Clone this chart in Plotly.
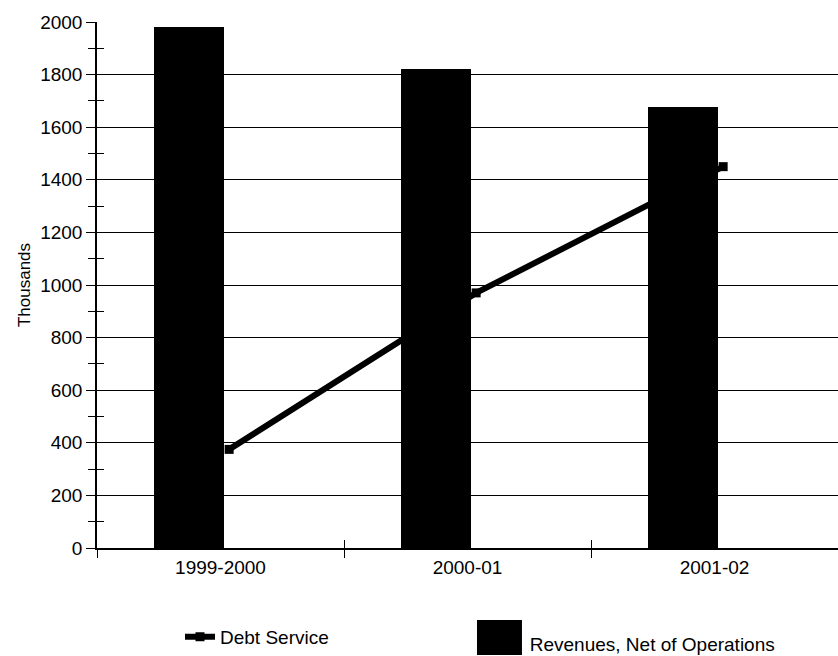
import plotly.graph_objects as go

categories = ["1999-2000", "2000-01", "2001-02"]
revenues_net = [1980, 1820, 1675]
debt_service = [375, 970, 1450]
y_ticks = [0, 200, 400, 600, 800, 1000, 1200, 1400, 1600, 1800, 2000]

FONT = "Liberation Sans, Arial, sans-serif"
idx = list(range(len(categories)))
bounds = [i - 0.5 for i in range(len(categories) + 1)]

fig = go.Figure()
fig.add_trace(go.Bar(
    x=idx, y=revenues_net, name="Revenues, Net of Operations",
    width=0.283, offset=-0.2675,
    marker=dict(color="black", line=dict(width=0)),
    legend="legend2",
))
fig.add_trace(go.Scatter(
    x=[i + 0.035 for i in idx], y=debt_service, name="Debt Service",
    mode="lines+markers",
    line=dict(color="black", width=6),
    marker=dict(symbol="square", size=9, color="black"),
    legend="legend",
))
# helper traces so the overlay axes (crossing ticks, category labels) get drawn
fig.add_trace(go.Scatter(x=[], y=[], xaxis="x2", yaxis="y2", showlegend=False, hoverinfo="skip"))
fig.add_trace(go.Scatter(x=[], y=[], xaxis="x3", yaxis="y", showlegend=False, hoverinfo="skip"))

fig.update_layout(
    width=838, height=656,
    margin=dict(l=97, r=0, t=22, b=108, autoexpand=False),
    paper_bgcolor="white", plot_bgcolor="white",
    font=dict(family=FONT, size=19, color="black"),
    bargap=0,
    xaxis=dict(
        range=[-0.5, 2.5], tickmode="array", tickvals=bounds,
        ticktext=["" for _ in bounds], ticks="outside", ticklen=8,
        tickwidth=1.2, tickcolor="black", automargin=False,
        showline=True, linecolor="black", linewidth=1.5,
        showgrid=False, zeroline=False,
    ),
    xaxis2=dict(
        overlaying="x", anchor="y2", side="bottom", automargin=False,
        range=[-0.5, 2.5], tickmode="array", tickvals=bounds,
        showticklabels=False, ticks="inside", ticklen=8,
        tickwidth=1.2, tickcolor="black",
        showline=False, showgrid=False, zeroline=False,
    ),
    xaxis3=dict(
        overlaying="x", anchor="y", side="bottom", automargin=False,
        range=[-0.5, 2.5], tickmode="array", tickvals=idx,
        ticktext=categories, ticks="", ticklabelstandoff=6,
        tickfont=dict(size=19, family=FONT, color="black"),
        showline=False, showgrid=False, zeroline=False,
    ),
    yaxis=dict(
        range=[0, 2000], tickmode="array", tickvals=y_ticks, automargin=False,
        ticks="outside", ticklen=9, tickwidth=1.2, tickcolor="black",
        showgrid=True, gridcolor="black", gridwidth=1.2,
        showline=True, linecolor="black", linewidth=1.5, zeroline=False,
        minor=dict(dtick=100, tick0=0, ticks="outside", ticklen=7,
                   tickwidth=1.2, tickcolor="black", showgrid=False),
        tickfont=dict(size=19, family=FONT, color="black"),
        title=dict(text="Thousands", font=dict(size=17, family=FONT, color="black"), standoff=5),
    ),
    yaxis2=dict(
        overlaying="y", anchor="x2", side="left", automargin=False,
        range=[0, 2000], tickmode="array", tickvals=y_ticks,
        ticks="inside", ticklen=7, tickwidth=1.2, tickcolor="black",
        showticklabels=False, showgrid=False, showline=False, zeroline=False,
        minor=dict(dtick=100, tick0=0, ticks="inside", ticklen=7,
                   tickwidth=1.2, tickcolor="black", showgrid=False),
    ),
    legend=dict(x=0.112, y=-0.169, xanchor="left", yanchor="middle",
                font=dict(size=19, family=FONT, color="black"),
                bgcolor="rgba(0,0,0,0)"),
    legend2=dict(x=0.530, y=-0.182, xanchor="left", yanchor="middle",
                 font=dict(size=19, family=FONT, color="black"),
                 bgcolor="rgba(0,0,0,0)"),
    showlegend=True,
    shapes=[dict(type="rect", xref="paper", yref="paper",
                 x0=0.5128, x1=0.5735, y0=-0.2034, y1=-0.1369,
                 fillcolor="black", line=dict(width=0), layer="above")],
)

fig.write_html("out.html")
